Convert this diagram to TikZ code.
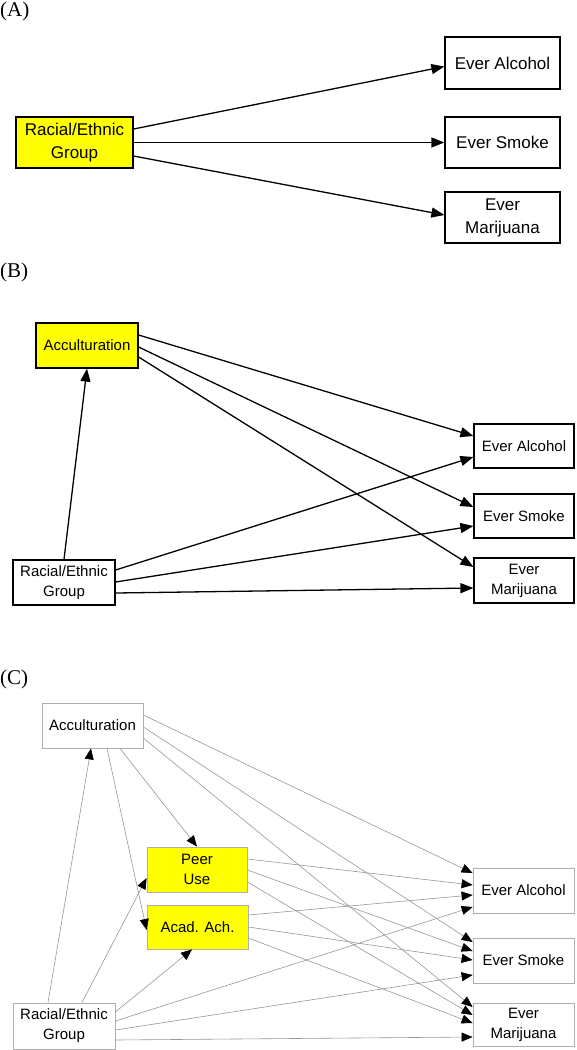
\documentclass[tikz,border=0pt]{standalone}
\usepackage{fontspec}
\setmainfont{Liberation Sans}
\newfontfamily\labelfont{Liberation Serif}
\usetikzlibrary{arrows.meta}
\definecolor{boxyellow}{RGB}{255,255,0}
\definecolor{lightedge}{RGB}{175,175,175}
\definecolor{thinline}{RGB}{150,150,150}
\tikzset{
  panellabel/.style={anchor=west,inner sep=0pt,font=\labelfont\fontsize{21}{24}\selectfont},
  bigbox/.style={draw=black,line width=1.2pt,rectangle,inner sep=0pt,align=center,
     font=\fontsize{17}{23}\selectfont},
  midbox/.style={draw=black,line width=1.2pt,rectangle,inner sep=0pt,align=center,
     font=\fontsize{15}{20}\selectfont},
  lightbox/.style={draw=lightedge,line width=0.8pt,rectangle,inner sep=0pt,align=center,
     font=\fontsize{15}{20}\selectfont},
  hl/.style={fill=boxyellow},
  bigarr/.style={line width=1.3pt,-{Triangle[length=13pt,width=10pt]}},
  thinarr/.style={draw=thinline,line width=0.6pt,-{Triangle[length=11pt,width=9pt,color=black]}}
}
\begin{document}
\begin{tikzpicture}[x=1pt,y=-1pt]
\useasboundingbox (0,0) rectangle (576,1050);

% ---------- Panel A ----------
\node[panellabel] (labA) at (0,11) {(A)};
\node[bigbox,hl,minimum width=117pt,minimum height=51pt] (racA) at (74.5,142.5) {Racial/Ethnic\\Group};
\node[bigbox,minimum width=115pt,minimum height=52pt] (alcA) at (502.5,63) {Ever Alcohol};
\node[bigbox,minimum width=115pt,minimum height=51pt] (smkA) at (502.5,142.5) {Ever Smoke};
\node[bigbox,minimum width=115pt,minimum height=51pt] (marA) at (502.5,217.5) {Ever\\Marijuana};
\draw[bigarr] ([yshift=13.5pt]racA.east) -- ([yshift=-3.5pt]alcA.west);
\draw[bigarr] (racA.east) -- (smkA.west);
\draw[bigarr] ([yshift=-13.5pt]racA.east) -- ([yshift=2.5pt]marA.west);

% ---------- Panel B ----------
\node[panellabel] (labB) at (0,272) {(B)};
\node[midbox,hl,minimum width=102pt,minimum height=45pt] (accB) at (87,345.5) {Acculturation};
\node[midbox,minimum width=102pt,minimum height=45pt] (racB) at (64,582.5) {Racial/Ethnic\\Group};
\node[midbox,minimum width=100pt,minimum height=44pt] (alcB) at (524,446) {Ever Alcohol};
\node[midbox,minimum width=100pt,minimum height=44pt] (smkB) at (524,516) {Ever Smoke};
\node[midbox,minimum width=100pt,minimum height=45pt] (marB) at (524,580.5) {Ever\\Marijuana};
\draw[bigarr] (racB.north) -- (accB.south);
\draw[bigarr] ([yshift=10.5pt]accB.east) -- ([yshift=10pt]alcB.west);
\draw[bigarr] ([yshift=-1.5pt]accB.east) -- ([yshift=9pt]smkB.west);
\draw[bigarr] ([yshift=-11.5pt]accB.east) -- ([yshift=13.5pt]marB.west);
\draw[bigarr] ([yshift=12.5pt]racB.east) -- ([yshift=-11pt]alcB.west);
\draw[bigarr] ([yshift=0.5pt]racB.east) -- ([yshift=-10pt]smkB.west);
\draw[bigarr] ([yshift=-10.5pt]racB.east) -- ([yshift=-7.5pt]marB.west);

% ---------- Panel C ----------
\node[panellabel] (labC) at (0,679) {(C)};
\node[lightbox,minimum width=101pt,minimum height=45pt] (accC) at (92.5,725.5) {Acculturation};
\node[lightbox,minimum width=102pt,minimum height=46pt] (racC) at (64,1026) {Racial/Ethnic\\Group};
\node[lightbox,hl,minimum width=100pt,minimum height=45pt] (peer) at (197,869.5) {Peer\\Use};
\node[lightbox,hl,minimum width=101pt,minimum height=44pt] (acad) at (197.5,927) {Acad. Ach.};
\node[lightbox,minimum width=101pt,minimum height=45pt] (alcC) at (523.5,890.5) {Ever Alcohol};
\node[lightbox,minimum width=101pt,minimum height=45pt] (smkC) at (523.5,960.5) {Ever Smoke};
\node[lightbox,minimum width=101pt,minimum height=43pt] (marC) at (523.5,1024.5) {Ever\\Marijuana};

\draw[thinarr] ([xshift=-16pt]racC.north) -- ([xshift=-1.5pt]accC.south);
\draw[thinarr] ([xshift=18pt]racC.north) -- ([yshift=-8.5pt]peer.west);
\draw[thinarr] ([xshift=14.5pt]accC.south) -- ([yshift=-3pt]acad.west);
\draw[thinarr] ([xshift=27.5pt]accC.south) -- (peer.north);
\draw[thinarr] ([yshift=14pt]racC.east) -- ([xshift=-5.5pt]acad.south);

\draw[thinarr] ([yshift=10.5pt]accC.east) -- ([yshift=17.5pt]alcC.west);
\draw[thinarr] ([yshift=-1.5pt]accC.east) -- ([yshift=18.5pt]smkC.west);
\draw[thinarr] ([yshift=-12.5pt]accC.east) -- ([yshift=17.5pt]marC.west);

\draw[thinarr] ([yshift=10.5pt]peer.east) -- ([yshift=5.5pt]alcC.west);
\draw[thinarr] ([yshift=-0.5pt]peer.east) -- ([yshift=9.5pt]smkC.west);
\draw[thinarr] ([yshift=-12.5pt]peer.east) -- ([yshift=9.5pt]marC.west);

\draw[thinarr] ([yshift=12pt]acad.east) -- ([yshift=-4.5pt]alcC.west);
\draw[thinarr] (acad.east) -- ([yshift=0.5pt]smkC.west);
\draw[thinarr] ([yshift=-11pt]acad.east) -- ([yshift=1.5pt]marC.west);

\draw[thinarr] ([yshift=5pt]racC.east) -- ([yshift=-16.5pt]alcC.west);
\draw[thinarr] ([yshift=-4pt]racC.east) -- ([yshift=-14.5pt]smkC.west);
\draw[thinarr] ([yshift=-14pt]racC.east) -- ([yshift=-12.5pt]marC.west);
\end{tikzpicture}
\end{document}
